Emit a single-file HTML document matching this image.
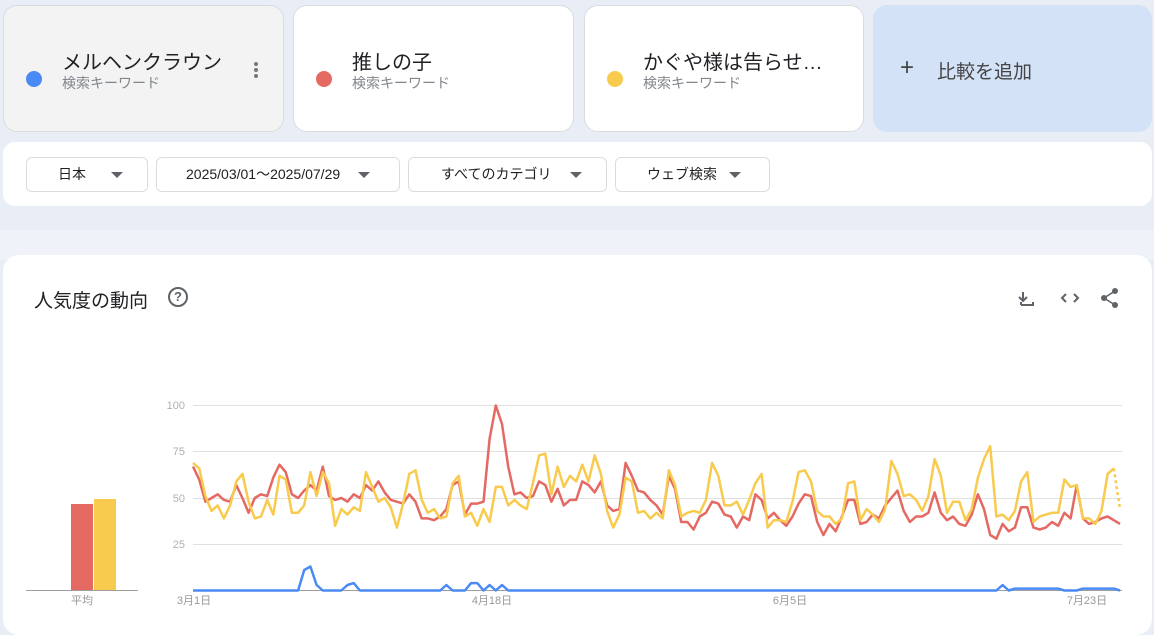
<!DOCTYPE html>
<html><head><meta charset="utf-8">
<style>
*{box-sizing:border-box;margin:0;padding:0}
body{width:1154px;height:624px;overflow:hidden;background:#e9edf6;font-family:"Liberation Sans","Noto Sans CJK JP",sans-serif;position:relative}
.card{position:absolute;top:5px;height:127px;border-radius:14px;border:1px solid #dadce0;background:#fff}
.dot{position:absolute;left:22px;top:65px;width:16px;height:16px;border-radius:50%}
.t{position:absolute;left:58px;top:40px;font-size:20px;color:#202124}
.s{position:absolute;left:58px;top:67px;font-size:14px;color:#80868b}
.panel{position:absolute;left:3px;top:142px;width:1149px;height:64px;background:#fff;border-radius:12px}
.dd{position:absolute;top:15px;height:35px;border:1px solid #dadce0;border-radius:6px;font-size:14px;color:#202124;line-height:33px}
.tri{position:absolute;top:14px;width:0;height:0;border-left:6px solid transparent;border-right:6px solid transparent;border-top:6px solid #5f6368}
.main{position:absolute;left:3px;top:255px;width:1149px;height:380px;background:#fff;border-radius:16px}
</style></head><body>
<div style="position:absolute;left:0;top:230px;width:1154px;height:30px;background:#eff2f8"></div>
<div class="card" style="left:3px;width:281px;background:#f3f3f3"><div class="dot" style="background:#4a8af4"></div><div class="t">メルヘンクラウン</div><div class="s">検索キーワード</div>
<div style="position:absolute;left:250px;top:56px;width:4px;height:4px;border-radius:50%;background:#777;box-shadow:0 6px 0 #777,0 12px 0 #777"></div></div>
<div class="card" style="left:293px;width:281px"><div class="dot" style="background:#e46962"></div><div class="t">推しの子</div><div class="s">検索キーワード</div></div>
<div class="card" style="left:584px;width:280px"><div class="dot" style="background:#f8cb4e"></div><div class="t">かぐや様は告らせ…</div><div class="s">検索キーワード</div></div>
<div class="card" style="left:873px;width:279px;background:#d3e2f6;border-color:#d3e2f6"><div style="position:absolute;left:26px;top:48px;font-size:24px;color:#444">+</div><div style="position:absolute;left:63px;top:51px;font-size:19px;color:#444">比較を追加</div></div>
<div class="panel">
<div class="dd" style="left:23px;width:122px"><span style="position:absolute;left:31px">日本</span><div class="tri" style="left:84px"></div></div>
<div class="dd" style="left:153px;width:244px"><span style="position:absolute;left:29px">2025/03/01〜2025/07/29</span><div class="tri" style="left:201px"></div></div>
<div class="dd" style="left:405px;width:199px"><span style="position:absolute;left:32px">すべてのカテゴリ</span><div class="tri" style="left:161px"></div></div>
<div class="dd" style="left:612px;width:155px"><span style="position:absolute;left:31px">ウェブ検索</span><div class="tri" style="left:113px"></div></div>
</div>
<div class="main">
<div style="position:absolute;left:31px;top:31px;font-size:19px;color:#202124">人気度の動向</div>
<div style="position:absolute;left:165px;top:32px;width:20px;height:20px;border:2px solid #5f6368;border-radius:50%;font-size:13px;font-weight:bold;color:#5f6368;text-align:center;line-height:16px">?</div>
</div>
<svg id="c" width="1154" height="624" style="position:absolute;left:0;top:0" xmlns="http://www.w3.org/2000/svg">
<g stroke="#e0e0e0" stroke-width="1"><line x1="193" y1="405.5" x2="1122" y2="405.5"/><line x1="193" y1="451.5" x2="1122" y2="451.5"/><line x1="193" y1="498.5" x2="1122" y2="498.5"/><line x1="193" y1="544.5" x2="1122" y2="544.5"/></g>
<line x1="193" y1="590.5" x2="1122" y2="590.5" stroke="#9e9e9e"/>
<line x1="26" y1="590.5" x2="138" y2="590.5" stroke="#9e9e9e"/>
<rect x="71" y="504" width="22" height="86" fill="#e46962"/><rect x="94" y="499" width="22" height="91" fill="#f8cb4e"/>
<g font-size="11" fill="#b0b0b0" text-anchor="end" font-family="Liberation Sans, sans-serif"><text x="185" y="409">100</text><text x="185" y="455">75</text><text x="185" y="502">50</text><text x="185" y="548">25</text></g>
<g font-size="11" fill="#999" font-family="Liberation Sans, Noto Sans CJK JP, sans-serif" text-anchor="middle"><text x="82" y="604">平均</text><text x="194" y="604">3月1日</text><text x="492" y="604">4月18日</text><text x="790" y="604">6月5日</text><text x="1087" y="604">7月23日</text></g>
<g fill="none" stroke="#5f6368" stroke-width="2"><path d="M1023 292v9M1019 297l4 4 4-4M1021 305h12v-3M1021 305v-3"/><path d="M1066 294l-4 4 4 4M1074 294l4 4-4 4"/></g>
<g fill="#5f6368"><circle cx="1115" cy="291" r="3"/><circle cx="1104" cy="298" r="3"/><circle cx="1115" cy="305" r="3"/></g>
<path d="M1115 291L1104 298L1115 305" stroke="#5f6368" stroke-width="1.5" fill="none"/>
</svg>
<script>
var R=[67,60,48,50,52,49,48,57,50,42,50,52,51,61,68,64,52,50,54,57,54,67,51,49,50,48,52,50,57,54,59,53,49,48,47,52,48,39,39,38,40,44,57,59,41,47,47,48,82,100,90,67,52,53,50,51,59,57,48,55,46,49,49,59,57,53,59,46,43,44,69,62,54,53,49,46,41,62,55,37,37,33,40,42,48,47,41,40,34,40,38,52,49,39,42,38,35,40,47,52,51,37,30,36,32,40,49,49,36,37,41,39,46,50,54,43,37,40,40,42,53,42,38,40,36,35,41,52,44,30,28,36,32,34,45,45,34,33,34,37,35,42,39,57,39,36,37,39,40,38,36];
var Y=[69,66,51,43,46,39,46,59,63,48,39,40,49,41,62,60,42,42,46,64,51,64,58,35,44,41,45,43,64,56,48,50,45,34,47,63,65,49,42,44,39,40,58,62,40,42,35,44,37,56,56,46,49,46,44,58,73,74,52,67,56,62,59,68,59,73,63,43,34,41,61,59,42,43,39,42,39,65,57,40,42,43,42,49,69,62,46,46,48,41,49,58,63,34,38,38,37,48,64,65,59,43,40,40,36,39,58,59,38,44,41,37,44,70,63,51,52,49,43,51,71,62,42,48,48,38,44,61,71,78,40,41,38,43,59,64,37,40,41,42,42,60,56,57,39,39,36,43,63,66,44];
var B=[];for(var i=0;i<151;i++)B.push(0);
B[18]=11;B[19]=13;B[20]=3;B[25]=3;B[26]=4;B[41]=3;B[45]=4;B[46]=4;B[48]=3;B[50]=3;B[131]=3;
for(i=133;i<=140;i++)B[i]=1;for(i=144;i<=149;i++)B[i]=1;
function X(i){return 193+i*6.18}function V(v){return 590.5-v*1.85}
function p(a,s,e){var d="";for(var i=s;i<=e;i++)d+=(i==s?"M":"L")+X(i).toFixed(1)+" "+V(a[i]).toFixed(1);return d}
var svg=document.getElementById("c"),ns="http://www.w3.org/2000/svg";
function add(d,c,dash){var e=document.createElementNS(ns,"path");e.setAttribute("d",d);e.setAttribute("fill","none");e.setAttribute("stroke",c);e.setAttribute("stroke-width","2.5");e.setAttribute("stroke-linejoin","round");if(dash)e.setAttribute("stroke-dasharray","3 3");svg.appendChild(e)}
add(p(B,0,150),"#4a8af4");add(p(R,0,150),"#e46962");add(p(Y,0,149),"#f8cb4e");add(p(Y,149,150),"#f8cb4e",1);
</script>
</body></html>
